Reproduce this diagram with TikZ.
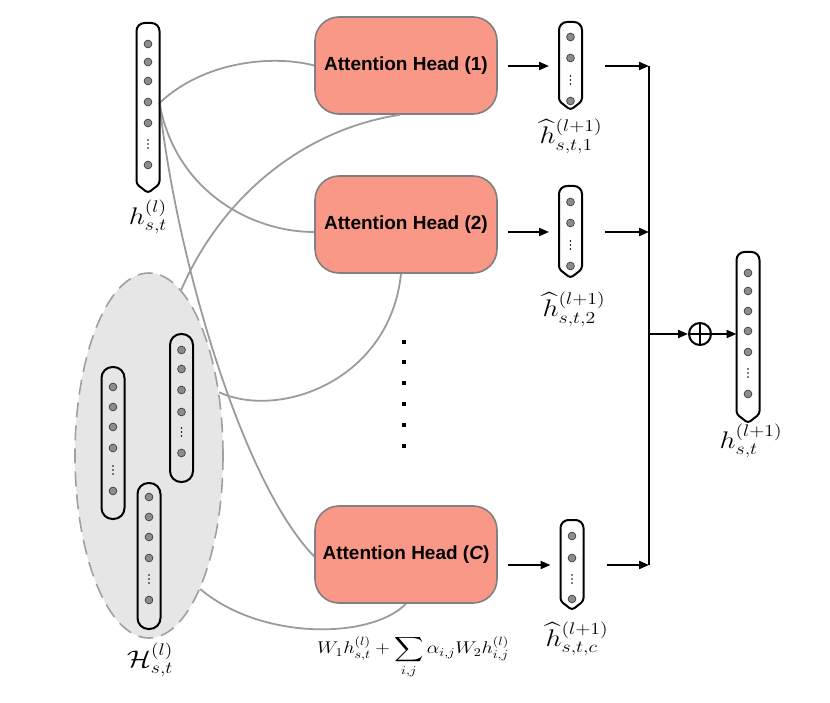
\RequirePackage{fix-cm}
\documentclass[tikz,border=0pt]{standalone}
\usepackage{amsmath}
\usepackage{exscale}
\usepackage{graphicx}
\usepackage{fontspec}
\newfontfamily\headfont{Liberation Sans}[BoldFont={* Bold}, BoldItalicFont={* Bold Italic}]
\usetikzlibrary{shapes.geometric,arrows.meta}
\definecolor{headfill}{RGB}{249,152,134}
\definecolor{headborder}{RGB}{128,128,128}
\definecolor{curvegray}{RGB}{155,155,155}
\definecolor{ellfill}{RGB}{230,230,230}
\definecolor{ellborder}{RGB}{160,160,160}
\definecolor{dotgray}{RGB}{140,140,140}
\newcommand{\mydot}[2]{\filldraw[fill=dotgray,draw=black!75,line width=0.7pt] (#1,#2) circle (3.9pt);}
\newcommand{\myvdots}[2]{\fill (#1,#2-4) circle (0.8pt) (#1,#2) circle (0.8pt) (#1,#2+4) circle (0.8pt);}
\newcommand{\pointvec}[1]{\draw[vecline] (#1.west) [rounded corners=8pt] -- (#1.north west) -- (#1.north east) -- (#1.east) [rounded corners=3pt] -- ([yshift=9pt]#1.south east) -- (#1.south) -- ([yshift=9pt]#1.south west) -- (#1.west) -- cycle;}
\newcommand{\wide}[1]{\scalebox{1.18}[1]{#1}}
\begin{document}
\begin{tikzpicture}[x=1pt,y=-1pt,
  headbox/.style={rectangle, rounded corners=24pt, draw=headborder, line width=1.6pt, fill=headfill,
    minimum width=182pt, minimum height=97pt, inner sep=0,
    font=\headfont\bfseries\fontsize{19}{22}\selectfont},
  vecnode/.style={rectangle, minimum width=23pt, inner sep=0, outer sep=0},
  vecline/.style={draw=black, line width=2pt},
  innervec/.style={rectangle, draw=black, line width=2pt, rounded corners=11pt, minimum width=23pt, inner sep=0},
  curve/.style={draw=curvegray, line width=1.8pt},
  arr/.style={line width=2pt, -{Triangle[length=10pt,width=8pt]}},
  mathlbl/.style={inner sep=0, font=\fontsize{24}{28}\selectfont},
  ]
\useasboundingbox (0,0) rectangle (830,703);

% set of neighbour vectors
\node[ellipse, draw=ellborder, dash pattern=on 15pt off 8pt, line width=1.6pt, fill=ellfill,
  minimum width=148pt, minimum height=365pt, inner sep=0] (Hset) at (149,455.5) {};
\node[innervec, minimum height=152pt] (iva) at (113,443) {};
\node[innervec, minimum height=148pt] (ivb) at (181.5,408) {};
\node[innervec, minimum height=146pt] (ivc) at (149,556) {};
\foreach \y in {387,407,427,448,491} {\mydot{113}{\y}}
\myvdots{113}{470}
\foreach \y in {350,369,390,412,453} {\mydot{181.5}{\y}}
\myvdots{181.5}{432}
\foreach \y in {497,517,537,558,600} {\mydot{149}{\y}}
\myvdots{149}{579}

% input vector
\node[vecnode, minimum height=170pt] (hv) at (148,108) {};
\coordinate (hvout) at ([yshift=5pt]hv.east);

% attention heads
\node[headbox] (head1) at (406,65.5) {Attention Head (1)};
\node[headbox] (head2) at (406,224.5) {Attention Head (2)};
\node[headbox] (headC) at (406,554.5) {Attention Head ({\itshape C})};

% output vectors of heads
\node[vecnode, minimum height=88pt] (v1) at (570.5,66) {};
\node[vecnode, minimum height=92pt] (v2) at (570.5,232) {};
\node[vecnode, minimum height=90pt] (vc) at (572,565) {};
\node[vecnode, minimum height=171pt] (fv) at (748,337.5) {};

% curves
\draw[curve] (hvout) .. controls (205,60) and (275,55) .. (head1.west);
\draw[curve] (hvout) .. controls (175,190) and (250,232) .. (head2.west |- v2.center);
\draw[curve] (hvout) .. controls (175,250) and (240,480) .. ([yshift=-2pt]headC.west);
\draw[curve] ([xshift=-6pt]head1.south) .. controls (300,130) and (220,200) .. (Hset.79);
\draw[curve] ([xshift=-5pt]head2.south) .. controls (390,380) and (280,420) .. (Hset.42);
\draw[curve] (headC.south) .. controls (370,640) and (260,640) .. (Hset.-69);

% vector outlines and dots
\pointvec{hv}
\foreach \y in {44,62,81,102,123,165} {\mydot{148}{\y}}
\myvdots{148}{144}
\pointvec{v1}
\foreach \y in {37,58,101} {\mydot{570.5}{\y}}
\myvdots{570.5}{80}
\pointvec{v2}
\foreach \y in {202,223,266} {\mydot{570.5}{\y}}
\myvdots{570.5}{245}
\pointvec{vc}
\foreach \y in {536,558,599} {\mydot{572}{\y}}
\myvdots{572}{579}
\pointvec{fv}
\foreach \y in {273,291,311,331,352,394} {\mydot{748}{\y}}
\myvdots{748}{373}

% vertical ellipsis between heads
\foreach \y in {342,362,383,404,425,446} {\fill (401.8,\y-2.2) rectangle ++(4.4,4.4);}

% arrows
\draw[arr, shorten <=10pt, shorten >=10pt] (head1.east |- v1.center) -- (v1.west);
\draw[arr, shorten <=10pt, shorten >=10pt] (head2.east |- v2.center) -- (v2.west);
\draw[arr, shorten <=10pt, shorten >=10pt] (headC.east |- vc.center) -- (vc.west);
\coordinate (b1) at (649,66);
\coordinate (b2) at (649,232);
\coordinate (bc) at (649,565);
\coordinate (bm) at (649,334);
\draw[arr, shorten <=23pt] (v1.east) -- (b1);
\draw[arr, shorten <=23pt] (v2.east) -- (b2);
\draw[arr, shorten <=23pt] (vc.east) -- (bc);
\draw[line width=2pt] (b1) -- (bc);
\node[circle, draw=black, line width=2pt, minimum size=22pt, inner sep=0] (oplus) at (700,334) {};
\draw[line width=2pt] (oplus.north) -- (oplus.south) (oplus.west) -- (oplus.east);
\draw[arr] (bm) -- (oplus.west);
\draw[arr] (oplus.east) -- (fv.west |- oplus.center);

% labels
\node[mathlbl] (lhv) at (148,217) {\wide{$h_{s,t}^{(l)}$}};
\node[mathlbl] (l1) at (571,136) {\wide{$\widehat{h}_{s,t,1}^{(l+1)}$}};
\node[mathlbl] (l2) at (574,309) {\wide{$\widehat{h}_{s,t,2}^{(l+1)}$}};
\node[mathlbl] (lc) at (577,639) {\wide{$\widehat{h}_{s,t,c}^{(l+1)}$}};
\node[mathlbl] (lfv) at (751,441) {\wide{$h_{s,t}^{(l+1)}$}};
\node[mathlbl] (lH) at (150,660) {\wide{$\mathcal{H}_{s,t}^{(l)}$}};
\node[inner sep=0, font=\fontsize{17}{20}\selectfont] (formula) at (413,657)
  {\wide{$\displaystyle W_1 h_{s,t}^{(l)} + \sum_{i,j} \alpha_{i,j} W_2 h_{i,j}^{(l)}$}};
\end{tikzpicture}
\end{document}
